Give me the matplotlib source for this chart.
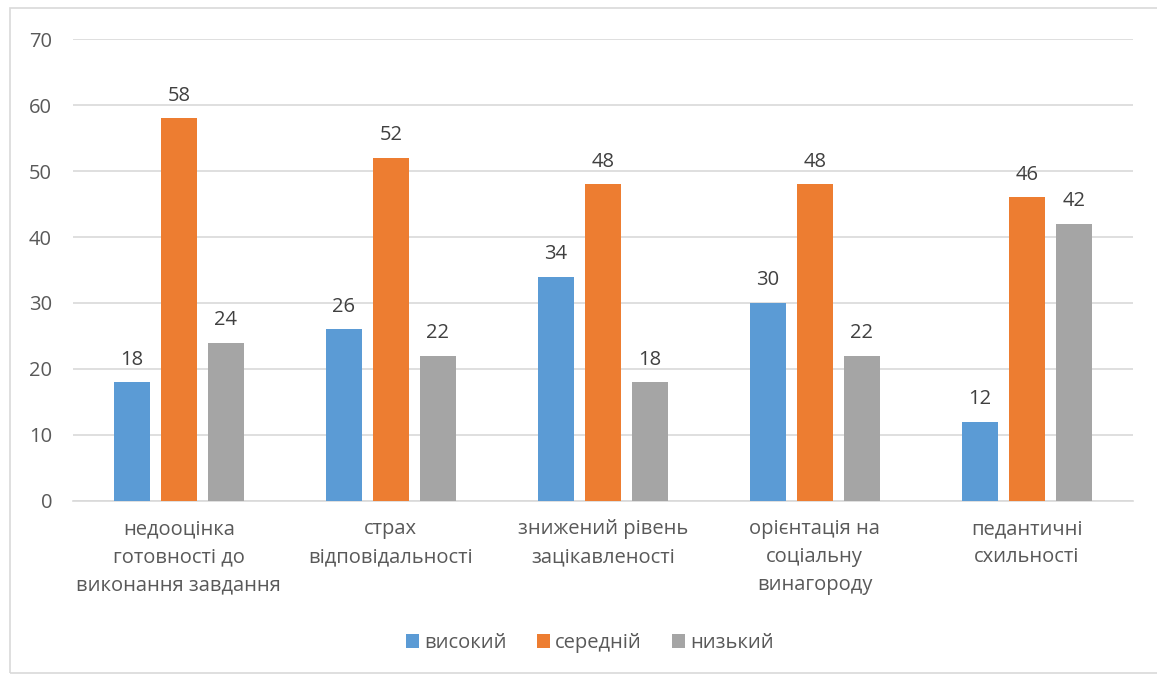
import numpy as np
import matplotlib.pyplot as plt
from matplotlib.patches import Rectangle

categories = [
    "недооцінка\nготовності до\nвиконання завдання",
    "страх\nвідповідальності",
    "знижений рівень\nзацікавленості",
    "орієнтація на\nсоціальну\nвинагороду",
    "педантичні\nсхильності",
]
series_names = ["високий", "середній", "низький"]
high = [18, 26, 34, 30, 12]
medium = [58, 52, 48, 48, 46]
low = [24, 22, 18, 22, 42]
colors = ["#5b9bd5", "#ed7d31", "#a5a5a5"]

plt.rcParams["font.family"] = ["Open Sans", "DejaVu Sans"]

fig = plt.figure(figsize=(11.57, 6.75), dpi=100)
ax = fig.add_axes([0.063, 0.258, 0.916, 0.684])

# outer chart frame
fig.patches.append(Rectangle((10 / 1157, 2 / 675), 1.0, 665 / 675, transform=fig.transFigure,
                             fill=False, edgecolor="#d9d9d9", linewidth=1.2))

x = np.arange(len(categories))
width = 0.17
step = 0.222
for i, (vals, name, c) in enumerate(zip([high, medium, low], series_names, colors)):
    bars = ax.bar(x + (i - 1) * step, vals, width, color=c, label=name, zorder=3)
    ax.bar_label(bars, padding=9, fontsize=14.5, color="#404040")

ax.set_xlim(-0.5, len(categories) - 0.5)
ax.set_ylim(0, 70)
ax.set_yticks(range(0, 71, 10))
ax.yaxis.grid(True, color="#d9d9d9", linewidth=1.2, zorder=0)
ax.set_xticks(x)
ax.set_xticklabels(categories, fontsize=14.5, color="#595959", linespacing=1.55)
ax.tick_params(axis="y", labelsize=14.5, labelcolor="#595959", length=0, pad=15)
ax.tick_params(axis="x", length=0, pad=13)
for s in ["top", "right", "left"]:
    ax.spines[s].set_visible(False)
ax.spines["bottom"].set_color("#d9d9d9")
ax.spines["bottom"].set_linewidth(1.2)

fig.legend(loc="center", bbox_to_anchor=(0.51, 1 - 643 / 675), ncol=3, frameon=False,
           fontsize=14.5, labelcolor="#595959", handlelength=0.65, handleheight=0.65,
           handletextpad=0.25, columnspacing=1.5)

fig.savefig("out.png", dpi=100)
